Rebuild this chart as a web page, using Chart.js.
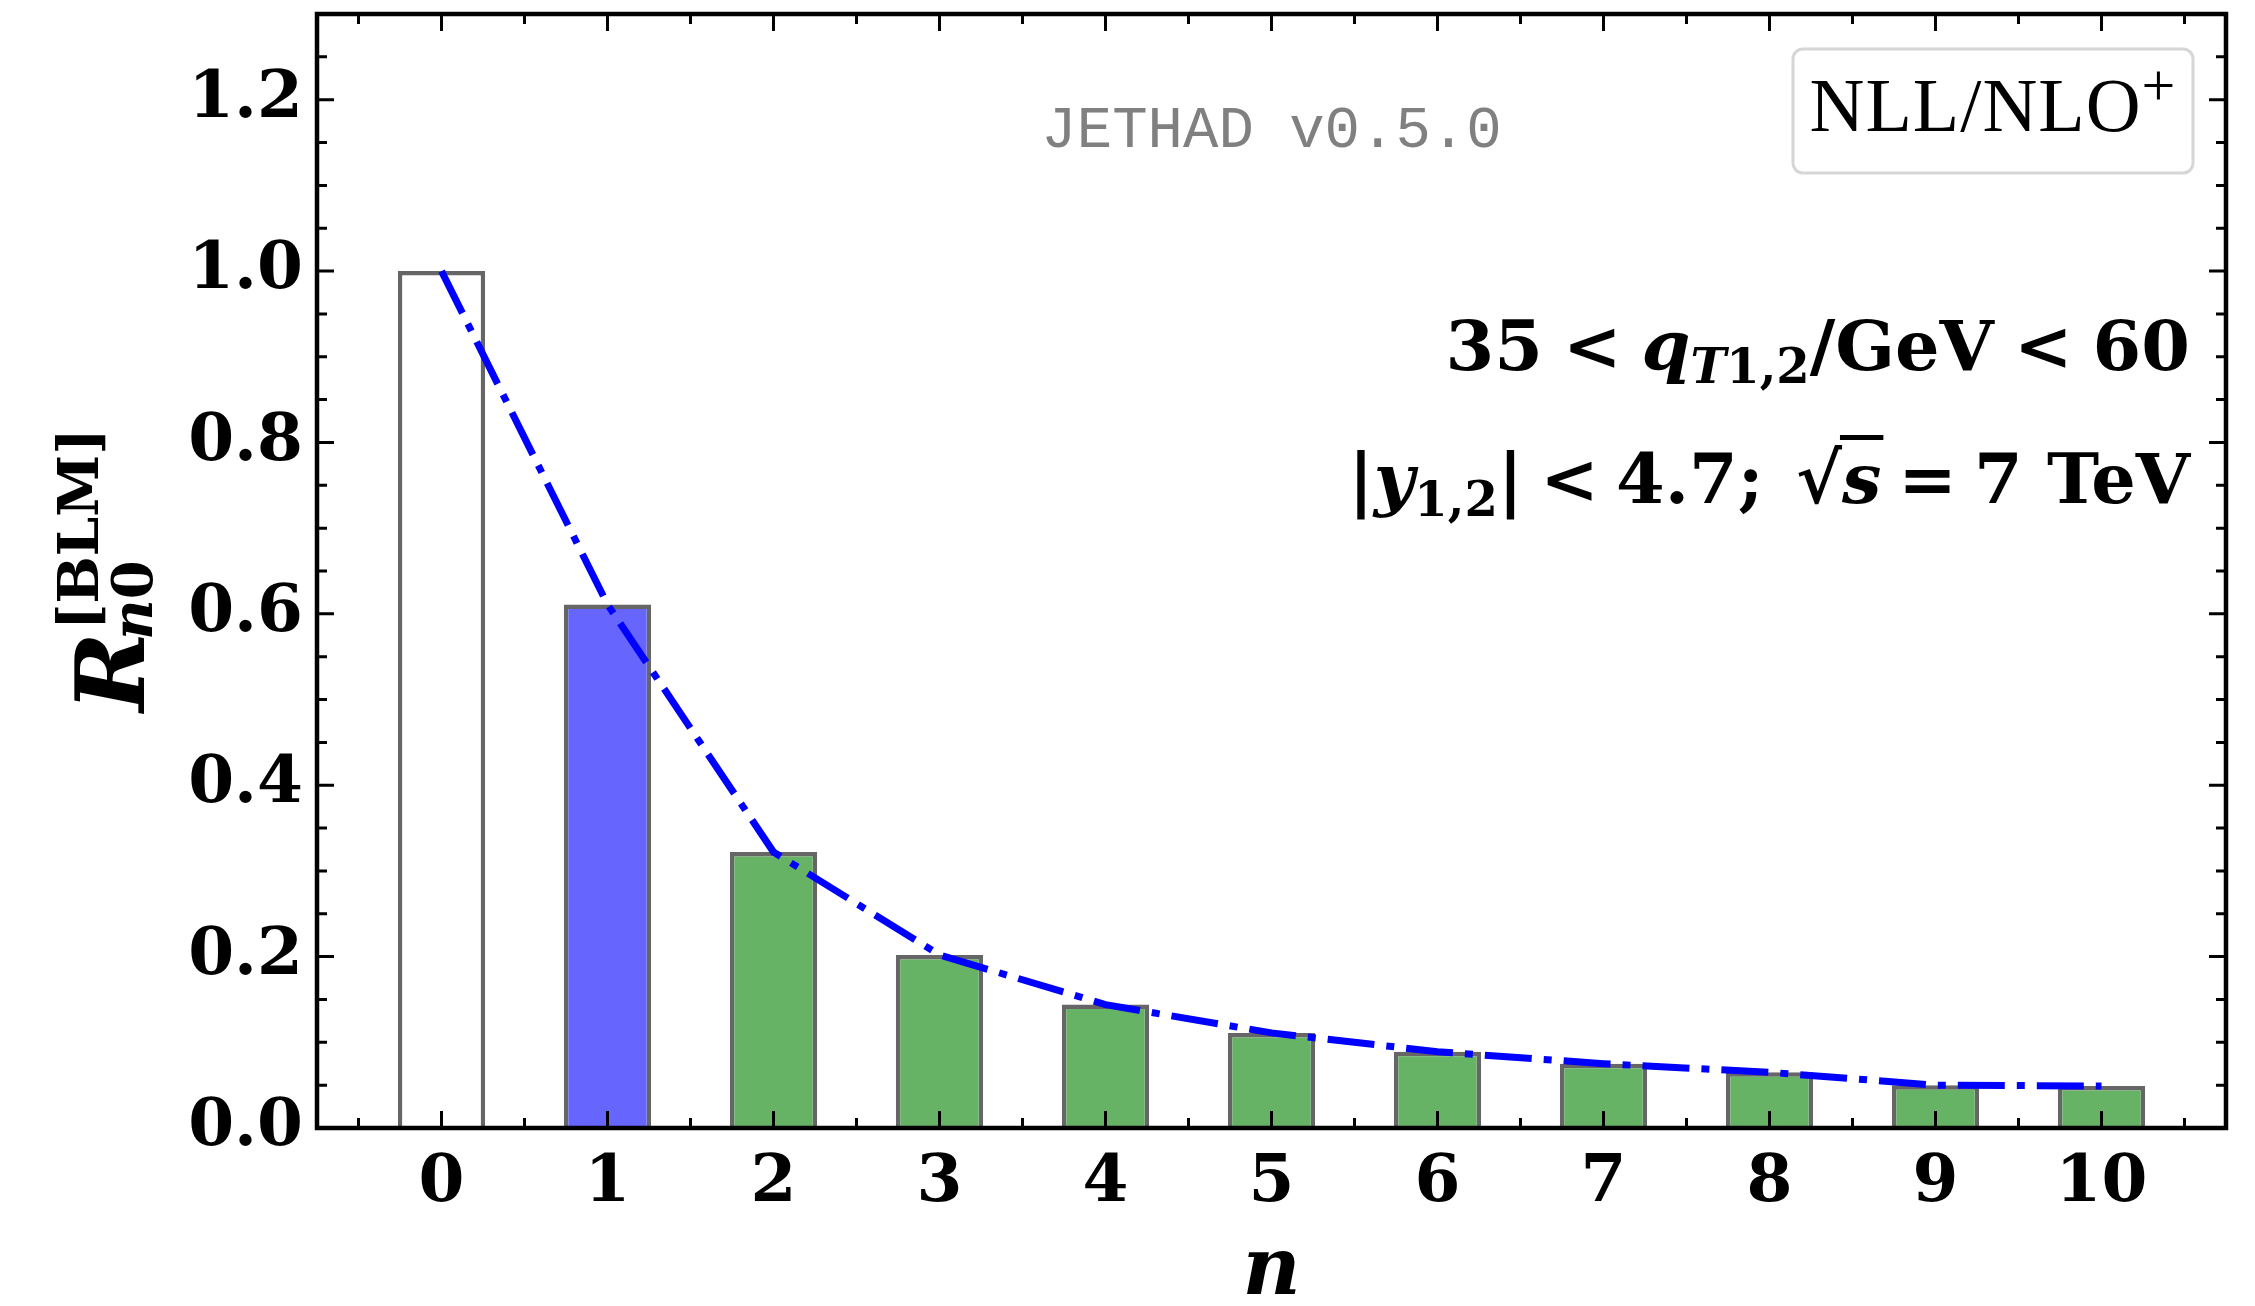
<!DOCTYPE html>
<html>
<head>
<meta charset="utf-8">
<title>BLM ratios</title>
<script src="https://cdn.jsdelivr.net/npm/chart.js@4.4.1/dist/chart.umd.min.js"></script>
<style>
  html, body { margin: 0; padding: 0; background: #fff; }
  #wrap { width: 2255px; height: 1306px; }
</style>
</head>
<body>
<div id="wrap"><canvas id="ratioChart" width="2255" height="1306"></canvas></div>
<script>
// moments n and the ratio R_n0 for each one
const moments = [0, 1, 2, 3, 4, 5, 6, 7, 8, 9, 10];
const ratios = [1.0, 0.611, 0.322, 0.202, 0.144, 0.111, 0.089, 0.075, 0.065, 0.050, 0.049];
const yTickValues = [0, 0.2, 0.4, 0.6, 0.8, 1.0, 1.2];

const serif = '"DejaVu Serif", serif';
const times = '"Liberation Serif", serif';

// n = 0 is the reference (empty), n = 1 highlighted, the rest green
const barColors = moments.map(n => n === 0 ? '#ffffff' : (n === 1 ? '#6666ff' : '#66b366'));

// draws a row of text pieces with different fonts, right aligned at xRight
function drawRuns(ctx, runs, xRight, baseline, align) {
    let total = 0;
    runs.forEach(r => {
        ctx.font = r.f;
        r.w = ctx.measureText(r.t).width + (r.gap || 0) * 2;
        total += r.w;
    });
    let x = align === 'center' ? xRight - total / 2 : xRight - total;
    runs.forEach(r => {
        ctx.font = r.f;
        ctx.fillText(r.t, x + (r.gap || 0), baseline + (r.dy || 0));
        if (r.over) {
            ctx.fillRect(x - 2, baseline - r.over, r.w + 4, 5);
        }
        x += r.w;
    });
}

const framePlugin = {
    id: 'frame',
    beforeDraw(chart) {
        const c = chart.ctx;
        c.save();
        c.fillStyle = '#ffffff';
        c.fillRect(0, 0, chart.width, chart.height);
        c.restore();
    },
    afterDraw(chart) {
        const c = chart.ctx;
        const a = chart.chartArea;
        const xs = chart.scales.x, ys = chart.scales.y;
        c.save();
        c.strokeStyle = '#000';
        c.lineWidth = 3;
        c.lineCap = 'butt';
        c.beginPath();
        // inward ticks on all four sides
        for (let v = -0.5; v <= 10.5; v += 0.5) {
            const px = xs.getPixelForValue(v);
            const len = Number.isInteger(v) ? 17 : 10;
            c.moveTo(px, a.bottom); c.lineTo(px, a.bottom - len);
            c.moveTo(px, a.top); c.lineTo(px, a.top + len);
        }
        for (let k = 1; k <= 25; k++) {
            const v = k * 0.05;
            const py = ys.getPixelForValue(v);
            const len = k % 4 === 0 ? 17 : 10;
            c.moveTo(a.left, py); c.lineTo(a.left + len, py);
            c.moveTo(a.right, py); c.lineTo(a.right - len, py);
        }
        c.stroke();
        c.lineWidth = 4.5;
        c.strokeRect(a.left, a.top, a.right - a.left, a.bottom - a.top);
        c.restore();
    }
};

const labelsPlugin = {
    id: 'labels',
    afterDraw(chart) {
        const c = chart.ctx;
        const a = chart.chartArea;
        const midX = (a.left + a.right) / 2;
        c.save();
        c.textBaseline = 'alphabetic';

        // code version stamp
        c.fillStyle = '#808080';
        c.font = '59px "Liberation Mono", monospace';
        c.textAlign = 'center';
        c.fillText('JETHAD v0.5.0', midX, 147);

        // legend-like box
        c.textAlign = 'left';
        c.strokeStyle = '#d6d6d6';
        c.lineWidth = 3;
        c.fillStyle = '#ffffff';
        c.beginPath();
        c.roundRect(1793, 49, 400, 124, 10);
        c.fill();
        c.stroke();
        c.fillStyle = '#000';
        c.letterSpacing = '1px';
        drawRuns(c, [
            { t: 'NLL/NLO', f: '76px ' + times },
            { t: '+', f: '60px ' + times, dy: -26 }
        ], 1993, 131, 'center');
        c.letterSpacing = '0px';

        // kinematic cuts
        const b = 'bold 70px ' + serif;
        const bi = 'italic bold 70px ' + serif;
        const sb = 'bold 48px ' + serif;
        const sbi = 'italic bold 48px ' + serif;
        drawRuns(c, [
            { t: '35', f: b },
            { t: '<', f: b, gap: 20 },
            { t: 'q', f: bi },
            { t: 'T', f: sbi, dy: 13 },
            { t: '1,2', f: sb, dy: 13 },
            { t: '/GeV', f: b },
            { t: '<', f: b, gap: 20 },
            { t: '60', f: b }
        ], 2190, 370);
        drawRuns(c, [
            { t: '|', f: b },
            { t: 'y', f: bi },
            { t: '1,2', f: sb, dy: 13 },
            { t: '|', f: b },
            { t: '<', f: b, gap: 17 },
            { t: '4.7;', f: b },
            { t: ' ', f: b, gap: 4 },
            { t: '\u221A', f: b },
            { t: 's', f: bi, over: 68 },
            { t: '=', f: b, gap: 17 },
            { t: '7', f: b },
            { t: ' TeV', f: b }
        ], 2190, 503);

        // y axis title R_{n0}^{[BLM]}, rotated
        c.translate(144, (a.top + a.bottom) / 2);
        c.rotate(-Math.PI / 2);
        const fR = 'italic bold 96px ' + serif;
        const fSup = 'bold 56px ' + serif;
        const fN = 'italic bold 56px ' + serif;
        const fZ = 'bold 56px ' + serif;
        c.font = fR;
        const wR = c.measureText('R').width;
        c.font = fSup;
        const wSup = c.measureText('[BLM]').width;
        c.font = fN;
        const wN = c.measureText('n').width;
        c.font = fZ;
        const wZ = c.measureText('0').width;
        const total = wR + Math.max(wSup, wN + wZ);
        const x0 = -total / 2;
        c.font = fR;
        c.fillText('R', x0, 0);
        c.font = fSup;
        c.fillText('[BLM]', x0 + wR + 2, -46);
        c.font = fN;
        c.fillText('n', x0 + wR - 8, 8);
        c.font = fZ;
        c.fillText('0', x0 + wR - 8 + wN, 8);
        c.restore();
    }
};

const ctx = document.getElementById('ratioChart').getContext('2d');
const ratioChart = new Chart(ctx, {
    data: {
        datasets: [{
            type: 'line',
            data: moments.map((n, i) => ({ x: n, y: ratios[i] })),
            borderColor: '#0000ff',
            borderWidth: 7,
            borderDash: [47, 12, 8, 12],
            pointRadius: 0,
            tension: 0,
            fill: false,
            order: 0
        }, {
            type: 'bar',
            data: moments.map((n, i) => ({ x: n, y: ratios[i] })),
            backgroundColor: barColors,
            borderColor: '#666666',
            borderWidth: 4.5,
            borderSkipped: 'bottom',
            barPercentage: 0.526,
            categoryPercentage: 1,
            order: 1
        }]
    },
    options: {
        responsive: false,
        animation: false,
        layout: { padding: { top: 14, right: 29, left: 0, bottom: 0 } },
        plugins: {
            legend: { display: false },
            tooltip: { enabled: false }
        },
        scales: {
            x: {
                type: 'linear',
                min: -0.75,
                max: 10.75,
                offset: false,
                grid: { display: false },
                border: { display: false },
                ticks: {
                    stepSize: 1,
                    includeBounds: false,
                    autoSkip: false,
                    maxRotation: 0,
                    padding: 8,
                    color: '#000',
                    font: { family: serif, size: 66, weight: 'bold' }
                },
                title: {
                    display: true,
                    text: 'n',
                    color: '#000',
                    padding: 0,
                    font: { family: serif, size: 80, style: 'italic', weight: 'bold', lineHeight: 0.83 }
                },
                afterFit(scale) {
                    scale.height = 178;
                    scale.paddingLeft = 0;
                    scale.paddingRight = 0;
                }
            },
            y: {
                type: 'linear',
                min: 0,
                max: 1.3,
                grid: { display: false },
                border: { display: false },
                afterBuildTicks(scale) { scale.ticks = yTickValues.map(v => ({ value: v })); },
                ticks: {
                    padding: 6,
                    color: '#000',
                    font: { family: serif, size: 66, weight: 'bold' },
                    callback: v => v.toFixed(1)
                },
                afterFit(scale) {
                    scale.width = 317;
                    scale.paddingTop = 0;
                    scale.paddingBottom = 0;
                }
            }
        }
    },
    plugins: [framePlugin, labelsPlugin]
});
</script>
</body>
</html>
